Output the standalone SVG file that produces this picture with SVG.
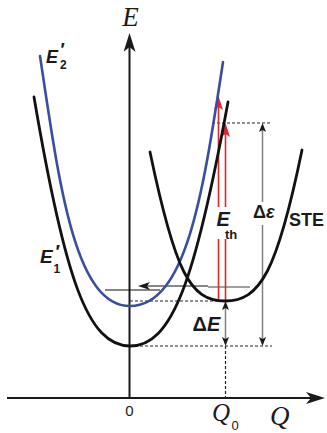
<svg xmlns="http://www.w3.org/2000/svg" width="327" height="433" viewBox="0 0 327 433">
<defs>
<style>
.bg{fill:#ffffff}
.axis{stroke:#1a1a1a;stroke-width:2;fill:none}
.curve{stroke:#111111;stroke-width:2.8;fill:none;stroke-linecap:round}
.blue{stroke:#3a4ea0;stroke-width:2.6;fill:none;stroke-linecap:round}
.red{stroke:#e4242b;stroke-width:1.6;fill:none}
.dash{stroke:#222222;stroke-width:1.2;stroke-dasharray:3 2;fill:none}
.gray{stroke:#808080;stroke-width:1.5;fill:none}
.thin{stroke:#111111;stroke-width:1.2;fill:none}
.serif{font-family:"Liberation Serif","Times New Roman",serif;font-style:italic;fill:#1a1a1a}
.sans{font-family:"Liberation Sans",Arial,sans-serif;fill:#1a1a1a}
.b{font-weight:bold}
.i{font-style:italic}
</style>
<marker id="axArrow" markerUnits="userSpaceOnUse" viewBox="0 0 19 12" refX="5" refY="6" markerWidth="19" markerHeight="12" orient="auto">
<path d="M0,0 L19,6 L0,12 L5,6 Z" fill="#1a1a1a"/>
</marker>
<marker id="redArrow" markerUnits="userSpaceOnUse" viewBox="0 0 14 9" refX="3" refY="4.5" markerWidth="14" markerHeight="9" orient="auto">
<path d="M0,0 L14,4.5 L0,9 L3,4.5 Z" fill="#e4242b"/>
</marker>
<marker id="dimArrow" markerUnits="userSpaceOnUse" viewBox="0 0 9 7" refX="2" refY="3.5" markerWidth="9" markerHeight="7" orient="auto-start-reverse">
<path d="M0,0 L9,3.5 L0,7 L2,3.5 Z" fill="#1a1a1a"/>
</marker>
<marker id="blkArrow" markerUnits="userSpaceOnUse" viewBox="0 0 12 8" refX="3" refY="4" markerWidth="12" markerHeight="8" orient="auto">
<path d="M0,0 L12,4 L0,8 L3,4 Z" fill="#1a1a1a"/>
</marker>
</defs>
<rect class="bg" x="0" y="0" width="327" height="433"/>

<g id="axes">
<line class="axis" x1="7" y1="398" x2="311" y2="398" marker-end="url(#axArrow)"/>
<line class="axis" x1="129.5" y1="398" x2="129.5" y2="47" marker-end="url(#axArrow)"/>
<text class="serif" x="130.5" y="26" font-size="27" text-anchor="middle">E</text>
<text class="serif" x="270" y="425" font-size="27">Q</text>
<text class="sans" x="129.5" y="416" font-size="15" text-anchor="middle">0</text>
<text class="serif" x="212" y="421" font-size="25">Q<tspan class="sans" font-style="normal" font-size="13" x="231.5" y="430">0</tspan></text>
</g>

<g id="connectors">
<line class="dash" x1="130" y1="346" x2="272" y2="346"/>
<line class="dash" x1="130" y1="301" x2="224" y2="301"/>
<line class="dash" x1="225.5" y1="346" x2="225.5" y2="397"/>
<line class="dash" x1="212" y1="123" x2="272" y2="123"/>
<line class="gray" x1="262.5" y1="202" x2="262.5" y2="130" marker-end="url(#dimArrow)"/>
<line class="gray" x1="262.5" y1="225" x2="262.5" y2="339" marker-end="url(#dimArrow)"/>
<line class="gray" x1="225.5" y1="308" x2="225.5" y2="339" marker-start="url(#dimArrow)" marker-end="url(#dimArrow)"/>
<line class="gray" x1="208" y1="287" x2="250" y2="287"/>
<line class="thin" x1="208" y1="286" x2="147" y2="286" marker-end="url(#blkArrow)"/>
<line class="thin" x1="105" y1="290" x2="160" y2="290"/>
<line class="red" x1="218.5" y1="300" x2="218.5" y2="239"/>
<line class="red" x1="218.5" y1="207" x2="218.5" y2="107" marker-end="url(#redArrow)"/>
<line class="red" x1="225.5" y1="300" x2="225.5" y2="239"/>
<line class="red" x1="225.5" y1="207" x2="225.5" y2="134" marker-end="url(#redArrow)"/>
</g>

<g id="E1">
<path class="curve" d="M34,97 C65,280 88,346 130,346 C172,346 195,282 228,102"/>
<text class="sans b i" x="40" y="263" font-size="19">E<tspan x="54.5" y="258">′</tspan><tspan font-size="12" font-style="normal" x="53.5" y="273">1</tspan></text>
</g>

<g id="E2">
<path class="blue" d="M40,56 C59.6,187 75,306 130,306 C187,306 203.4,190 223,62"/>
<text class="sans b i" x="46" y="63" font-size="18">E<tspan x="59.5" y="56">′</tspan><tspan font-size="12" font-style="normal" x="60" y="69">2</tspan></text>
</g>

<g id="STE">
<path class="curve" d="M150,152 C175,272 190,301 225,301 C260,301 277,272 302,150"/>
<text class="sans b" x="289" y="226" font-size="18">STE</text>
</g>

<g id="labels">
<text class="sans b" x="216.5" y="226" font-size="20"><tspan class="i">E</tspan><tspan font-size="13" x="225" y="239">th</tspan></text>
<text class="sans b" x="253" y="218" font-size="18">Δ<tspan class="i">ε</tspan></text>
<text class="sans b" x="192.5" y="331" font-size="20">Δ<tspan class="i">E</tspan></text>
</g>
</svg>
